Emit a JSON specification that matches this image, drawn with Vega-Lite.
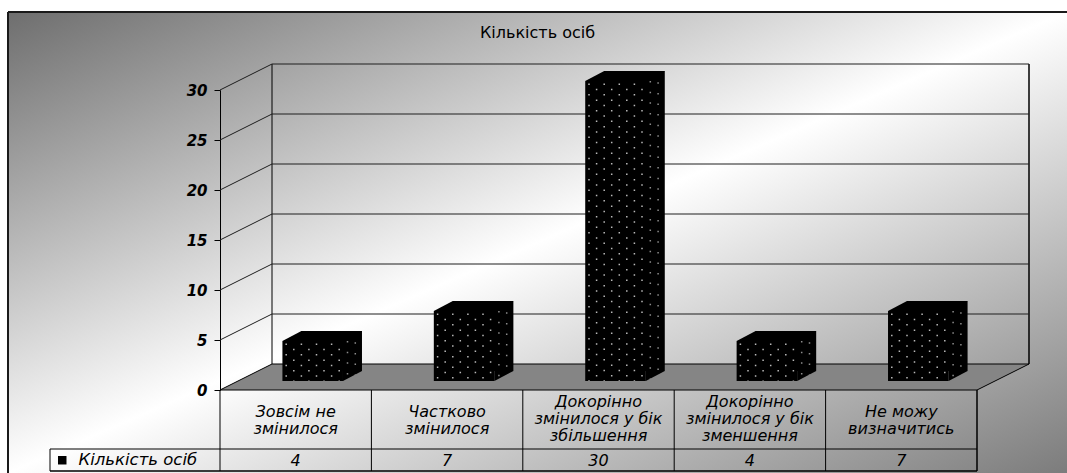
{
  "$schema": "https://vega.github.io/schema/vega-lite/v6.json",
  "width": 1059,
  "height": 461,
  "autosize": {"type": "none"},
  "padding": {"left": 8, "top": 12, "right": 0, "bottom": 0},
  "background": "#ffffff",
  "title": {
    "text": "Кількість осіб",
    "font": "DejaVu Sans",
    "fontSize": 16,
    "fontWeight": "normal",
    "color": "#000000",
    "anchor": "middle",
    "frame": "group",
    "offset": -29
  },
  "config": {
    "font": "DejaVu Sans",
    "view": {
      "fill": {
        "gradient": "linear",
        "x1": 0, "y1": 0, "x2": 1, "y2": 1,
        "stops": [
          {"offset": 0, "color": "#6e6e6e"},
          {"offset": 0.5, "color": "#ffffff"},
          {"offset": 1, "color": "#7c7c7c"}
        ]
      },
      "stroke": "#1a1a1a",
      "strokeWidth": 2,
      "strokeDash": [1059, 1520, 461, 0]
    }
  },
  "datasets": {
    "answers": [
      {"cat": "Зовсім не змінилося", "n": 4, "series": "Кількість осіб"},
      {"cat": "Частково змінилося", "n": 7, "series": "Кількість осіб"},
      {"cat": "Докорінно змінилося у бік збільшення", "n": 30, "series": "Кількість осіб"},
      {"cat": "Докорінно змінилося у бік зменшення", "n": 4, "series": "Кількість осіб"},
      {"cat": "Не можу визначитись", "n": 7, "series": "Кількість осіб"}
    ],
    "grid": [{"v": 0}, {"v": 5}, {"v": 10}, {"v": 15}, {"v": 20}, {"v": 25}, {"v": 30}]
  },
  "data": {"name": "answers"},
  "layer": [
    {
      "description": "floor of the 3D plot box",
      "data": {"name": "grid"},
      "transform": [{"filter": "datum.v == 0"}],
      "mark": {"type": "point", "shape": "M0,0L757,0L809,-26L52,-26Z", "size": 4, "filled": true, "fill": "#858585", "stroke": "#000000", "strokeWidth": 1, "opacity": 1},
      "encoding": {
        "x": {
          "datum": "Зовсім не змінилося",
          "bandPosition": 0,
          "scale": {
            "type": "band",
            "domain": ["Зовсім не змінилося", "Частково змінилося", "Докорінно змінилося у бік збільшення", "Докорінно змінилося у бік зменшення", "Не можу визначитись"],
            "range": [212, 969],
            "paddingInner": 0,
            "paddingOuter": 0
          },
          "axis": {
            "orient": "bottom",
            "offset": -83,
            "ticks": false,
            "domain": false,
            "grid": false,
            "title": null,
            "labelAngle": 0,
            "labelBaseline": "middle",
            "labelPadding": {"condition": {"test": "indexof(datum.value, 'Докорінно') == 0", "value": 11}, "value": 21.5},
            "labelLineHeight": 17,
            "labelLimit": 300,
            "labelFont": "DejaVu Sans",
            "labelFontSize": 16,
            "labelFontStyle": "italic",
            "labelColor": "#000000",
            "labelExpr": "datum.value == 'Зовсім не змінилося' ? ['Зовсім не', 'змінилося'] : datum.value == 'Частково змінилося' ? ['Частково', 'змінилося'] : datum.value == 'Докорінно змінилося у бік збільшення' ? ['Докорінно', 'змінилося у бік', 'збільшення'] : datum.value == 'Докорінно змінилося у бік зменшення' ? ['Докорінно', 'змінилося у бік', 'зменшення'] : ['Не можу', 'визначитись']"
          }
        },
        "y": {
          "field": "v",
          "type": "quantitative",
          "scale": {"domain": [0, 30], "range": [378, 78], "nice": false, "zero": true},
          "axis": {
            "orient": "left",
            "offset": -212,
            "values": [0, 5, 10, 15, 20, 25, 30],
            "grid": false,
            "title": null,
            "tickSize": 6,
            "tickColor": "#000000",
            "domainColor": "#000000",
            "labelFont": "DejaVu Sans",
            "labelFontSize": 15,
            "labelFontStyle": "italic",
            "labelFontWeight": "bold",
            "labelColor": "#000000",
            "labelPadding": 7
          }
        }
      }
    },
    {
      "description": "back wall, left edge",
      "data": {"name": "grid"},
      "mark": {"type": "rule", "color": "#000000", "strokeWidth": 1, "xOffset": 52, "x2Offset": 52, "yOffset": -26, "y2Offset": -26},
      "encoding": {
        "x": {"datum": "Зовсім не змінилося", "bandPosition": 0},
        "y": {"aggregate": "min", "field": "v", "type": "quantitative", "title": null},
        "y2": {"aggregate": "max", "field": "v"}
      }
    },
    {
      "description": "back wall, right edge",
      "data": {"name": "grid"},
      "mark": {"type": "rule", "color": "#000000", "strokeWidth": 1.5, "xOffset": 52, "x2Offset": 52, "yOffset": -26, "y2Offset": -26},
      "encoding": {
        "x": {"datum": "Не можу визначитись", "bandPosition": 1},
        "y": {"aggregate": "min", "field": "v", "type": "quantitative", "title": null},
        "y2": {"aggregate": "max", "field": "v"}
      }
    },
    {
      "description": "gridlines on the back wall",
      "data": {"name": "grid"},
      "transform": [{"filter": "datum.v > 0"}],
      "mark": {"type": "rule", "color": "#1e1e1e", "strokeWidth": 1, "xOffset": 52, "x2Offset": 52, "yOffset": -26},
      "encoding": {
        "x": {"datum": "Зовсім не змінилося", "bandPosition": 0},
        "x2": {"datum": "Не можу визначитись", "bandPosition": 1},
        "y": {"field": "v", "type": "quantitative", "title": null}
      }
    },
    {
      "description": "gridlines on the side wall",
      "data": {"name": "grid"},
      "transform": [{"filter": "datum.v > 0"}],
      "mark": {"type": "rule", "color": "#1e1e1e", "strokeWidth": 1, "x2Offset": 52, "y2Offset": -26},
      "encoding": {
        "x": {"datum": "Зовсім не змінилося", "bandPosition": 0},
        "x2": {"datum": "Зовсім не змінилося", "bandPosition": 0},
        "y": {"field": "v", "type": "quantitative", "title": null},
        "y2": {"field": "v"}
      }
    },
    {
      "description": "bar prisms: rear face",
      "mark": {"type": "bar", "color": "#000000", "width": {"band": 0.4}, "xOffset": 36, "x2Offset": 36, "yOffset": -19, "y2Offset": -19},
      "encoding": {
        "x": {"field": "cat", "type": "nominal", "sort": null},
        "y": {"field": "n", "type": "quantitative", "title": null}
      }
    },
    {
      "description": "bar prisms: top face",
      "mark": {"type": "point", "shape": "M-30.3,0L30.3,0L49.3,-10L-11.3,-10Z", "size": 4, "filled": true, "color": "#000000", "opacity": 1, "xOffset": 17, "yOffset": -9},
      "encoding": {
        "x": {"field": "cat", "type": "nominal", "sort": null},
        "y": {"field": "n", "type": "quantitative", "title": null}
      }
    },
    {
      "description": "bar prisms: lower corner of the side face",
      "mark": {"type": "point", "shape": "M30.3,0L49.3,-10L30.3,-10Z", "size": 4, "filled": true, "color": "#000000", "opacity": 1, "xOffset": 17, "yOffset": -9},
      "encoding": {
        "x": {"field": "cat", "type": "nominal", "sort": null},
        "y": {"datum": 0}
      }
    },
    {
      "description": "bar prisms: front face",
      "mark": {"type": "bar", "width": {"band": 0.4}, "xOffset": 17, "x2Offset": 17, "yOffset": -9, "y2Offset": -9},
      "encoding": {
        "x": {"field": "cat", "type": "nominal", "sort": null},
        "y": {"field": "n", "type": "quantitative", "title": null},
        "color": {
          "field": "series",
          "type": "nominal",
          "scale": {"range": ["#000000"]},
          "legend": {
            "orient": "none",
            "legendX": 46,
            "legendY": 440,
            "title": null,
            "padding": 0,
            "symbolType": "square",
            "symbolSize": 72,
            "symbolStrokeWidth": 0,
            "labelFont": "DejaVu Sans",
            "labelFontSize": 16.5,
            "labelFontStyle": "italic",
            "labelColor": "#000000",
            "labelOffset": 8,
            "labelLimit": 300
          }
        }
      }
    },
    {"mark": {"type": "rule", "color": "#b8b8b8", "strokeWidth": 1.5, "strokeDash": [1.5, 9.1], "strokeDashOffset": 8.1, "xOffset": -9.5, "yOffset": -9, "y2Offset": -9}, "encoding": {"x": {"field": "cat", "type": "nominal", "sort": null}, "y": {"field": "n", "type": "quantitative", "title": null}, "y2": {"datum": 0}}},
    {"mark": {"type": "rule", "color": "#b8b8b8", "strokeWidth": 1.5, "strokeDash": [1.5, 9.1], "strokeDashOffset": 2.8, "xOffset": -1.9, "yOffset": -9, "y2Offset": -9}, "encoding": {"x": {"field": "cat", "type": "nominal", "sort": null}, "y": {"field": "n", "type": "quantitative", "title": null}, "y2": {"datum": 0}}},
    {"mark": {"type": "rule", "color": "#b8b8b8", "strokeWidth": 1.5, "strokeDash": [1.5, 9.1], "strokeDashOffset": 8.1, "xOffset": 5.7, "yOffset": -9, "y2Offset": -9}, "encoding": {"x": {"field": "cat", "type": "nominal", "sort": null}, "y": {"field": "n", "type": "quantitative", "title": null}, "y2": {"datum": 0}}},
    {"mark": {"type": "rule", "color": "#b8b8b8", "strokeWidth": 1.5, "strokeDash": [1.5, 9.1], "strokeDashOffset": 2.8, "xOffset": 13.2, "yOffset": -9, "y2Offset": -9}, "encoding": {"x": {"field": "cat", "type": "nominal", "sort": null}, "y": {"field": "n", "type": "quantitative", "title": null}, "y2": {"datum": 0}}},
    {"mark": {"type": "rule", "color": "#b8b8b8", "strokeWidth": 1.5, "strokeDash": [1.5, 9.1], "strokeDashOffset": 8.1, "xOffset": 20.8, "yOffset": -9, "y2Offset": -9}, "encoding": {"x": {"field": "cat", "type": "nominal", "sort": null}, "y": {"field": "n", "type": "quantitative", "title": null}, "y2": {"datum": 0}}},
    {"mark": {"type": "rule", "color": "#b8b8b8", "strokeWidth": 1.5, "strokeDash": [1.5, 9.1], "strokeDashOffset": 2.8, "xOffset": 28.3, "yOffset": -9, "y2Offset": -9}, "encoding": {"x": {"field": "cat", "type": "nominal", "sort": null}, "y": {"field": "n", "type": "quantitative", "title": null}, "y2": {"datum": 0}}},
    {"mark": {"type": "rule", "color": "#b8b8b8", "strokeWidth": 1.5, "strokeDash": [1.5, 9.1], "strokeDashOffset": 8.1, "xOffset": 35.9, "yOffset": -9, "y2Offset": -9}, "encoding": {"x": {"field": "cat", "type": "nominal", "sort": null}, "y": {"field": "n", "type": "quantitative", "title": null}, "y2": {"datum": 0}}},
    {"mark": {"type": "rule", "color": "#b8b8b8", "strokeWidth": 1.5, "strokeDash": [1.5, 9.1], "strokeDashOffset": 2.8, "xOffset": 43.5, "yOffset": -9, "y2Offset": -9}, "encoding": {"x": {"field": "cat", "type": "nominal", "sort": null}, "y": {"field": "n", "type": "quantitative", "title": null}, "y2": {"datum": 0}}},
    {"mark": {"type": "rule", "color": "#8c8c8c", "strokeWidth": 1.5, "strokeDash": [1.5, 9.1], "strokeDashOffset": 8.1, "xOffset": 51.8, "yOffset": -11.4, "y2Offset": -11.4}, "encoding": {"x": {"field": "cat", "type": "nominal", "sort": null}, "y": {"field": "n", "type": "quantitative", "title": null}, "y2": {"datum": 0}}},
    {"mark": {"type": "rule", "color": "#8c8c8c", "strokeWidth": 1.5, "strokeDash": [1.5, 9.1], "strokeDashOffset": 2.8, "xOffset": 59.6, "yOffset": -15.5, "y2Offset": -15.5}, "encoding": {"x": {"field": "cat", "type": "nominal", "sort": null}, "y": {"field": "n", "type": "quantitative", "title": null}, "y2": {"datum": 0}}},
    {
      "description": "data table: column separators",
      "mark": {"type": "rule", "color": "#000000", "strokeWidth": 1, "y2Offset": 81},
      "encoding": {
        "x": {"field": "cat", "type": "nominal", "sort": null, "bandPosition": 0},
        "y": {"datum": 0},
        "y2": {"datum": 0}
      }
    },
    {
      "description": "data table: right border",
      "data": {"name": "grid"},
      "transform": [{"filter": "datum.v == 0"}],
      "mark": {"type": "rule", "color": "#000000", "strokeWidth": 1.5, "y2Offset": 81},
      "encoding": {
        "x": {"datum": "Не можу визначитись", "bandPosition": 1},
        "y": {"field": "v", "type": "quantitative", "title": null},
        "y2": {"field": "v"}
      }
    },
    {
      "description": "data table: line above the value row",
      "data": {"name": "grid"},
      "transform": [{"filter": "datum.v == 0"}],
      "mark": {"type": "rule", "color": "#000000", "strokeWidth": 1, "xOffset": -170, "yOffset": 59},
      "encoding": {
        "x": {"datum": "Зовсім не змінилося", "bandPosition": 0},
        "x2": {"datum": "Не можу визначитись", "bandPosition": 1},
        "y": {"field": "v", "type": "quantitative", "title": null}
      }
    },
    {
      "description": "data table: bottom line",
      "data": {"name": "grid"},
      "transform": [{"filter": "datum.v == 0"}],
      "mark": {"type": "rule", "color": "#000000", "strokeWidth": 1.5, "xOffset": -170, "yOffset": 81},
      "encoding": {
        "x": {"datum": "Зовсім не змінилося", "bandPosition": 0},
        "x2": {"datum": "Не можу визначитись", "bandPosition": 1},
        "y": {"field": "v", "type": "quantitative", "title": null}
      }
    },
    {
      "description": "data table: left border of the series cell",
      "data": {"name": "grid"},
      "transform": [{"filter": "datum.v == 0"}],
      "mark": {"type": "rule", "color": "#000000", "strokeWidth": 1, "xOffset": -170, "yOffset": 59, "y2Offset": 81},
      "encoding": {
        "x": {"datum": "Зовсім не змінилося", "bandPosition": 0},
        "y": {"field": "v", "type": "quantitative", "title": null},
        "y2": {"field": "v"}
      }
    },
    {
      "description": "data table: values",
      "mark": {"type": "text", "font": "DejaVu Sans", "fontSize": 16, "fontStyle": "italic", "color": "#000000", "baseline": "middle", "align": "center", "yOffset": 71},
      "encoding": {
        "x": {"field": "cat", "type": "nominal", "sort": null},
        "y": {"datum": 0},
        "text": {"field": "n", "type": "quantitative"}
      }
    }
  ]
}
